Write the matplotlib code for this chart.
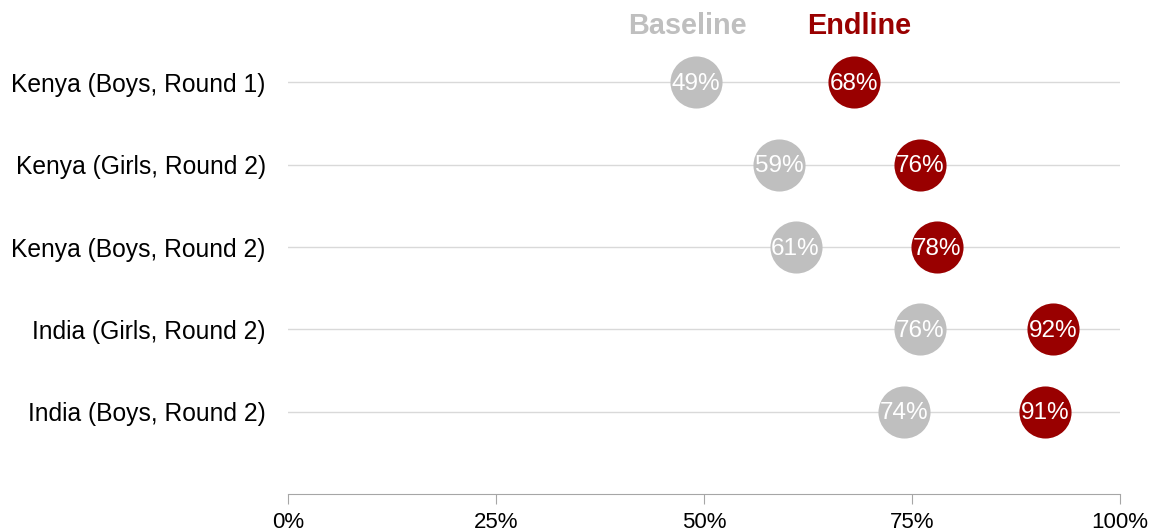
import matplotlib.pyplot as plt
from matplotlib.ticker import PercentFormatter

plt.rcParams['font.family'] = ['Liberation Sans', 'DejaVu Sans']

groups = ['Kenya (Boys, Round 1)', 'Kenya (Girls, Round 2)', 'Kenya (Boys, Round 2)',
          'India (Girls, Round 2)', 'India (Boys, Round 2)']
baseline = [49, 59, 61, 76, 74]
endline = [68, 76, 78, 92, 91]

gray = '#BFBFBF'
red = '#990000'

fig = plt.figure(figsize=(11.51, 5.32), dpi=100)
ax = fig.add_axes([0.2502, 0.0714, 0.7229, 0.9286])

ypos = list(range(len(groups)))
for y in ypos:
    ax.axhline(y, color='#D9D9D9', lw=1, zorder=1)

ax.plot(baseline, ypos, 'o', ms=37.5, color=gray, mec='none', zorder=3)
ax.plot(endline, ypos, 'o', ms=37.5, color=red, mec='none', zorder=3)
for y, b, e in zip(ypos, baseline, endline):
    ax.text(b, y + 0.02, f'{b}%', color='white', ha='center', va='center', fontsize=17.5, zorder=4)
    ax.text(e, y + 0.02, f'{e}%', color='white', ha='center', va='center', fontsize=17.5, zorder=4)

ax.set_xlim(0, 100)
ax.set_ylim(5, -1)
ax.set_yticks(ypos)
ax.set_yticklabels(groups, fontsize=17.7)
ax.tick_params(axis='y', length=0, pad=16)
ax.set_xticks([0, 25, 50, 75, 100])
ax.xaxis.set_major_formatter(PercentFormatter(decimals=0))
ax.tick_params(axis='x', labelsize=16, length=7, color='#A6A6A6', pad=6)
for s in ['left', 'right', 'top']:
    ax.spines[s].set_visible(False)
ax.spines['bottom'].set_color('#A6A6A6')

ax.text(48, -0.68, 'Baseline', color=gray, fontsize=20.8, fontweight='bold', ha='center', va='center')
ax.text(68.7, -0.68, 'Endline', color=red, fontsize=20.8, fontweight='bold', ha='center', va='center')

fig.savefig('out.png', dpi=100)
